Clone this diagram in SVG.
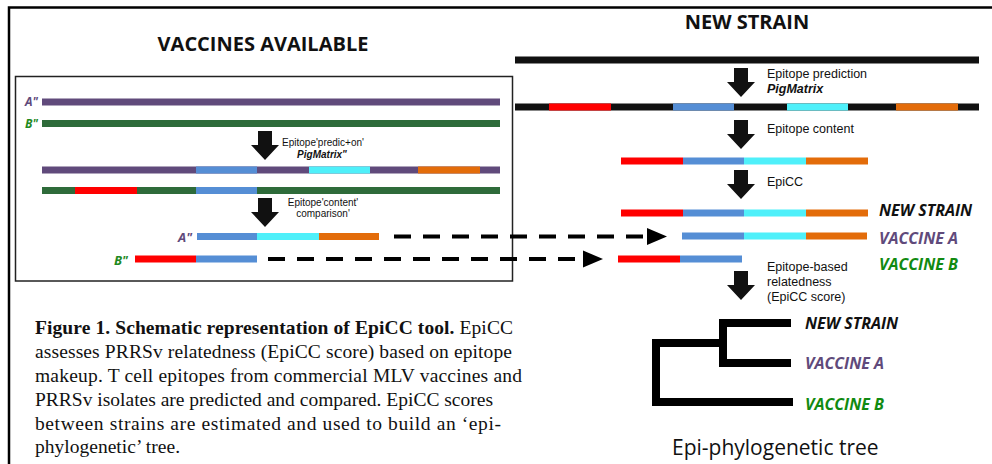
<svg xmlns="http://www.w3.org/2000/svg" width="992" height="464" viewBox="0 0 992 464">
<style>
.t{font-family:"Open Sans","DejaVu Sans",sans-serif;fill:#111}
.s{font-family:"Liberation Sans",Arial,sans-serif;fill:#111}
.title{font-size:20px;font-weight:bold;text-anchor:middle}
.sm{font-size:10px;text-anchor:middle}
.md{font-size:12.5px}
.lbl{font-size:16px;font-weight:bold;font-style:italic}
.cap{font-family:"Liberation Serif","Times New Roman",serif;font-size:19.5px;fill:#111}
.dash{stroke:#000;stroke-width:4;stroke-dasharray:17 12;fill:none}
</style>
<defs>
<symbol id="arrowR" overflow="visible"><path d="M-7,0 H7 V14 H14 L0,29 L-14,14 H-7 Z" fill="#111"/></symbol>
</defs>
<rect width="992" height="464" fill="#fff"/>
<path d="M9,464 V7.5 H992" fill="none" stroke="#000" stroke-width="2.5"/>
<g id="vaccines-panel">
<rect x="15.5" y="76.5" width="497" height="204.5" fill="none" stroke="#222" stroke-width="1.5"/>
<text class="t title" x="263" y="51">VACCINES AVAILABLE</text>
</g>
<g id="bar-A">
<text class="t" x="25" y="106" style="font-size:12px;font-weight:bold;font-style:italic;fill:#604a7b">A"</text>
<rect x="42" y="98.5" width="458" height="7" fill="#604a7b"/>
</g>
<g id="bar-B">
<text class="t" x="25" y="127.5" style="font-size:12px;font-weight:bold;font-style:italic;fill:#1f8a1f">B"</text>
<rect x="42" y="120" width="458" height="7" fill="#2e6b3a"/>
</g>
<g id="left-step1">
<use href="#arrowR" x="265" y="131"/>
<text class="s sm" x="323" y="146">Epitope'predic+on'</text>
<text class="s sm" x="322" y="158" style="font-weight:bold;font-style:italic">PigMatrix"</text>
</g>
<g id="bar-A-epitopes">
<rect x="42" y="166.5" width="458" height="7" fill="#604a7b"/>
<rect x="196" y="166.5" width="61" height="7" fill="#558ed5"/>
<rect x="309" y="166.5" width="61" height="7" fill="#4ff0fa"/>
<rect x="418" y="166.5" width="62" height="7" fill="#e36c0a"/>
</g>
<g id="bar-B-epitopes">
<rect x="42" y="187" width="458" height="7" fill="#2e6b3a"/>
<rect x="75" y="187" width="62" height="7" fill="#ff0000"/>
<rect x="196" y="187" width="61" height="7" fill="#558ed5"/>
</g>
<g id="left-step2">
<use href="#arrowR" x="265" y="198"/>
<text class="s sm" x="323" y="205.5">Epitope'content'</text>
<text class="s sm" x="323" y="217">comparison'</text>
</g>
<g id="content-A">
<text class="t" x="178" y="242" style="font-size:13px;font-weight:bold;font-style:italic;fill:#604a7b">A"</text>
<rect x="197" y="233" width="60" height="7" fill="#558ed5"/>
<rect x="257" y="233" width="62" height="7" fill="#4ff0fa"/>
<rect x="319" y="233" width="60" height="7" fill="#e36c0a"/>
</g>
<g id="content-B">
<text class="t" x="114" y="264.5" style="font-size:13px;font-weight:bold;font-style:italic;fill:#1f8a1f">B"</text>
<rect x="135" y="255.5" width="61" height="7" fill="#ff0000"/>
<rect x="196" y="255.5" width="61" height="7" fill="#558ed5"/>
</g>
<g id="new-strain">
<text class="t title" x="747" y="29">NEW STRAIN</text>
<rect x="515" y="56.5" width="464" height="7" fill="#111"/>
</g>
<g id="right-step1">
<use href="#arrowR" x="741" y="68"/>
<text class="s md" x="767" y="78">Epitope prediction</text>
<text class="s md" x="767" y="92.5" style="font-weight:bold;font-style:italic">PigMatrix</text>
</g>
<g id="new-epitopes">
<rect x="515" y="103.5" width="464" height="7" fill="#111"/>
<rect x="549" y="103.5" width="62" height="7" fill="#ff0000"/>
<rect x="673" y="103.5" width="61" height="7" fill="#558ed5"/>
<rect x="787" y="103.5" width="61" height="7" fill="#4ff0fa"/>
<rect x="896" y="103.5" width="62" height="7" fill="#e36c0a"/>
</g>
<g id="right-step2">
<use href="#arrowR" x="741" y="120"/>
<text class="s md" x="767" y="133">Epitope content</text>
</g>
<g id="new-content">
<rect x="621" y="157.5" width="62" height="7" fill="#ff0000"/>
<rect x="683" y="157.5" width="61" height="7" fill="#558ed5"/>
<rect x="744" y="157.5" width="62" height="7" fill="#4ff0fa"/>
<rect x="806" y="157.5" width="62" height="7" fill="#e36c0a"/>
</g>
<g id="right-step3">
<use href="#arrowR" x="741" y="170"/>
<text class="s md" x="767" y="186">EpiCC</text>
</g>
<g id="cmp-new">
<rect x="621" y="209.5" width="62" height="7" fill="#ff0000"/>
<rect x="683" y="209.5" width="61" height="7" fill="#558ed5"/>
<rect x="744" y="209.5" width="62" height="7" fill="#4ff0fa"/>
<rect x="806" y="209.5" width="62" height="7" fill="#e36c0a"/>
<text class="t lbl" x="879" y="216">NEW STRAIN</text>
</g>
<g id="cmp-A">
<rect x="682" y="232.5" width="62" height="7" fill="#558ed5"/>
<rect x="744" y="232.5" width="62" height="7" fill="#4ff0fa"/>
<rect x="806" y="232.5" width="61" height="7" fill="#e36c0a"/>
<text class="t lbl" x="879" y="244" style="fill:#604a7b">VACCINE A</text>
</g>
<g id="cmp-B">
<rect x="618" y="255.5" width="62" height="7" fill="#ff0000"/>
<rect x="680" y="255.5" width="62" height="7" fill="#558ed5"/>
<text class="t lbl" x="879" y="270" style="fill:#118a11">VACCINE B</text>
</g>
<g id="right-step4">
<use href="#arrowR" x="741" y="271"/>
<text class="s md" x="767" y="271">Epitope-based</text>
<text class="s md" x="767" y="286">relatedness</text>
<text class="s md" x="767" y="301">(EpiCC score)</text>
</g>
<g id="connectors">
<path class="dash" d="M394,236.5 H647"/>
<path d="M647,228 L667,236.5 L647,245 Z" fill="#000"/>
<path class="dash" d="M268,259 H583"/>
<path d="M583,250.5 L603,259 L583,267.5 Z" fill="#000"/>
</g>
<g id="tree">
<path d="M791,323 H723 V363 H791 M723,343 H656 V402 H793" fill="none" stroke="#000" stroke-width="8" stroke-linejoin="miter"/>
<text class="t lbl" x="805" y="329">NEW STRAIN</text>
<text class="t lbl" x="805" y="369" style="fill:#604a7b">VACCINE A</text>
<text class="t lbl" x="805" y="410" style="fill:#118a11">VACCINE B</text>
<text class="t" x="672" y="455" style="font-size:21px">Epi-phylogenetic tree</text>
</g>
<g id="caption">
<text class="cap" x="35" y="334" textLength="478"><tspan font-weight="bold">Figure 1. Schematic representation of EpiCC tool.</tspan> EpiCC</text>
<text class="cap" x="35" y="358" textLength="477">assesses PRRSv relatedness (EpiCC score) based on epitope</text>
<text class="cap" x="35" y="382" textLength="487">makeup. T cell epitopes from commercial MLV vaccines and</text>
<text class="cap" x="35" y="406" textLength="458">PRRSv isolates are predicted and compared. EpiCC scores</text>
<text class="cap" x="35" y="430" textLength="466">between strains are estimated and used to build an ‘epi-</text>
<text class="cap" x="35" y="453" textLength="145">phylogenetic’ tree.</text>
</g>
</svg>
